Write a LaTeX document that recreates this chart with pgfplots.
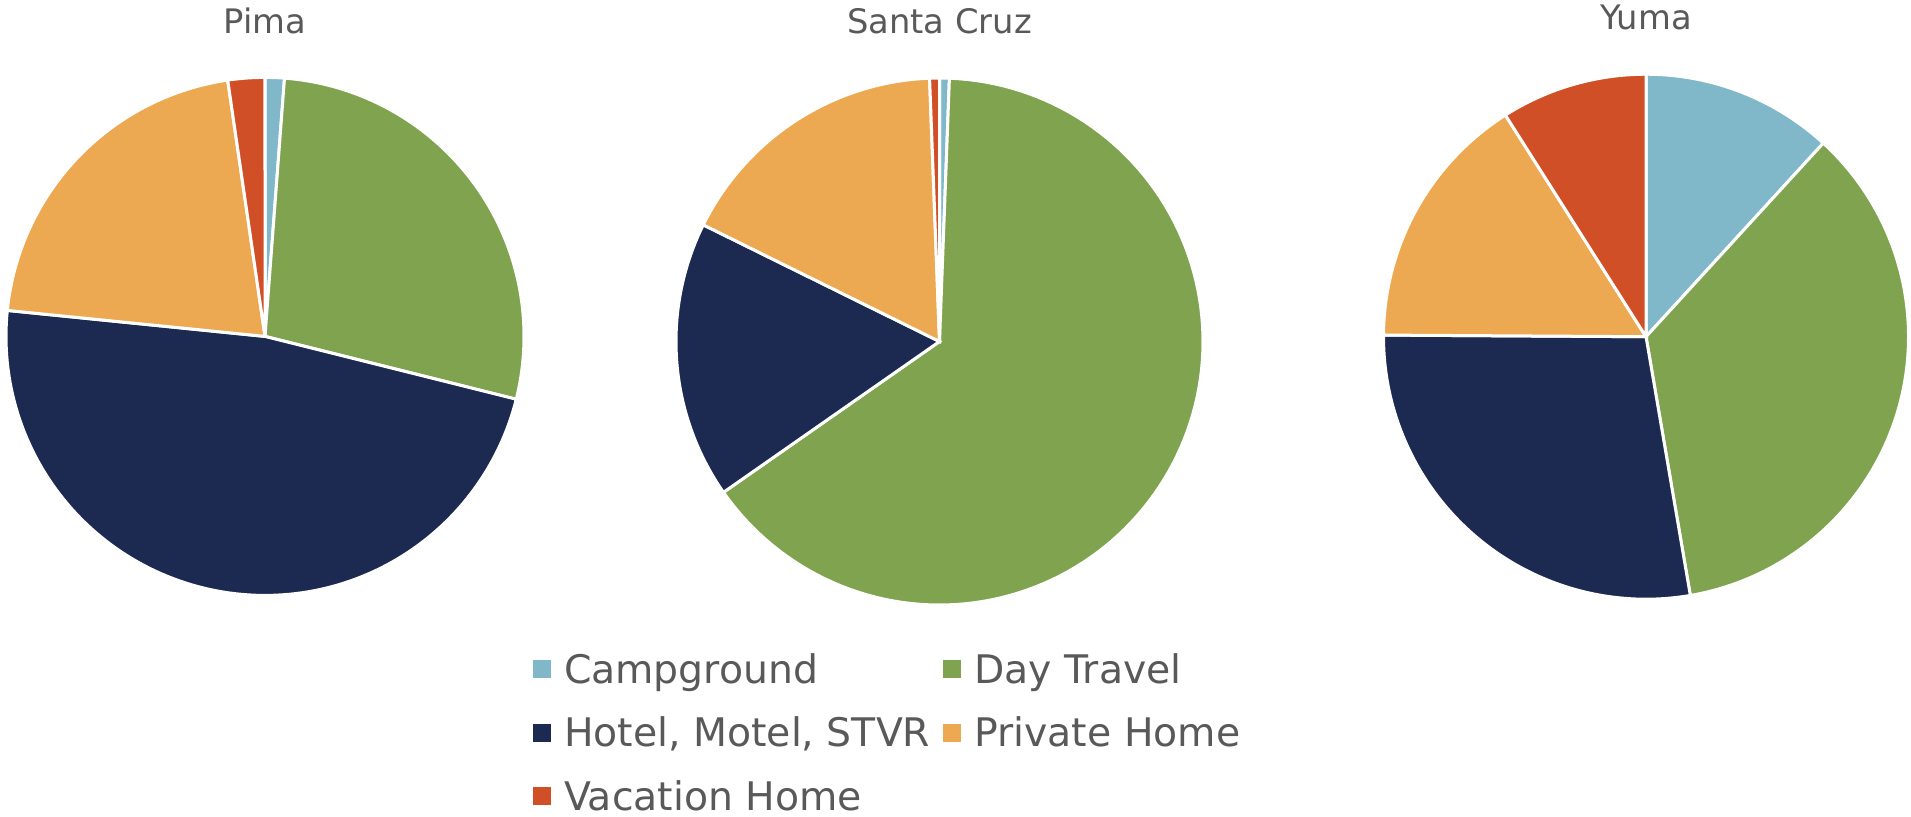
\documentclass[border=0pt]{standalone}
\usepackage{fontspec}
\setmainfont{DejaVu Sans}
\usepackage{pgfplots}
\pgfplotsset{compat=1.18}

\definecolor{campC}{HTML}{80B8CA}
\definecolor{dayC}{HTML}{7FA34F}
\definecolor{hotelC}{HTML}{1C2951}
\definecolor{privC}{HTML}{EDA951}
\definecolor{vacC}{HTML}{D04F27}
\definecolor{txtgray}{HTML}{595959}

% one slice: angles in degrees, clockwise from 12 o'clock
\newcommand\slice[3]{%
  \addplot[fill=#1, draw=white, line width=0.3mm, domain=#2:#3, samples=120]
    ({sin(x)}, {cos(x)}) -- (axis cs:0,0) -- cycle;}

% shares: campground, day travel, hotel, private home, vacation home
\newcommand\pie[5]{%
  \pgfmathsetmacro\kk{360/(#1+#2+#3+#4+#5)}%
  \pgfmathsetmacro\cA{\kk*(#1)}%
  \pgfmathsetmacro\cB{\kk*(#1+#2)}%
  \pgfmathsetmacro\cC{\kk*(#1+#2+#3)}%
  \pgfmathsetmacro\cD{\kk*(#1+#2+#3+#4)}%
  \slice{campC}{0}{\cA}
  \slice{dayC}{\cA}{\cB}
  \slice{hotelC}{\cB}{\cC}
  \slice{privC}{\cC}{\cD}
  \slice{vacC}{\cD}{360}
}

\pgfplotsset{
  pieaxis/.style={
    scale only axis, hide axis, clip=false,
    xmin=-1, xmax=1, ymin=-1, ymax=1,
    anchor=center,
    title style={at={(0.5,1)}, anchor=center, yshift=3.55mm,
      text=txtgray, font=\fontsize{9.6}{11}\selectfont},
  },
}

\begin{document}
\begin{tikzpicture}
\useasboundingbox (0,0) rectangle (191.1mm,-81.6mm);

\begin{axis}[pieaxis, at={(26.5mm,-33.64mm)}, width=51.8mm, height=51.8mm,
  title={Pima}]
  \pie{1.2}{27.7}{47.7}{21.1}{2.3}
\end{axis}

\begin{axis}[pieaxis, at={(93.95mm,-34.15mm)}, width=52.7mm, height=52.7mm,
  title={Santa Cruz},
  legend columns=2,
  legend style={at={(-0.2713,-0.093)}, anchor=north west, draw=none,
    fill=none, inner sep=0pt, outer sep=0pt, column sep=1.3mm,
    row sep=2.75mm, text=txtgray,
    font=\fontsize{11.2}{13}\selectfont,
    nodes={inner sep=0pt, text height=2.9mm, text depth=0.7mm}},
  legend cell align=left,
  legend image code/.code={\fill[#1, draw=none] (0mm,-0.6mm) rectangle (1.8mm,1.2mm);}]
  \pie{0.6}{64.7}{17.0}{17.1}{0.6}
  \legend{Campground, Day Travel, {Hotel, Motel, STVR}, Private Home, Vacation Home}
\end{axis}

\begin{axis}[pieaxis, at={(164.6mm,-33.67mm)}, width=52.5mm, height=52.5mm,
  title={Yuma}]
  \pie{11.8}{35.5}{27.8}{15.9}{9.0}
\end{axis}
\end{tikzpicture}
\end{document}
